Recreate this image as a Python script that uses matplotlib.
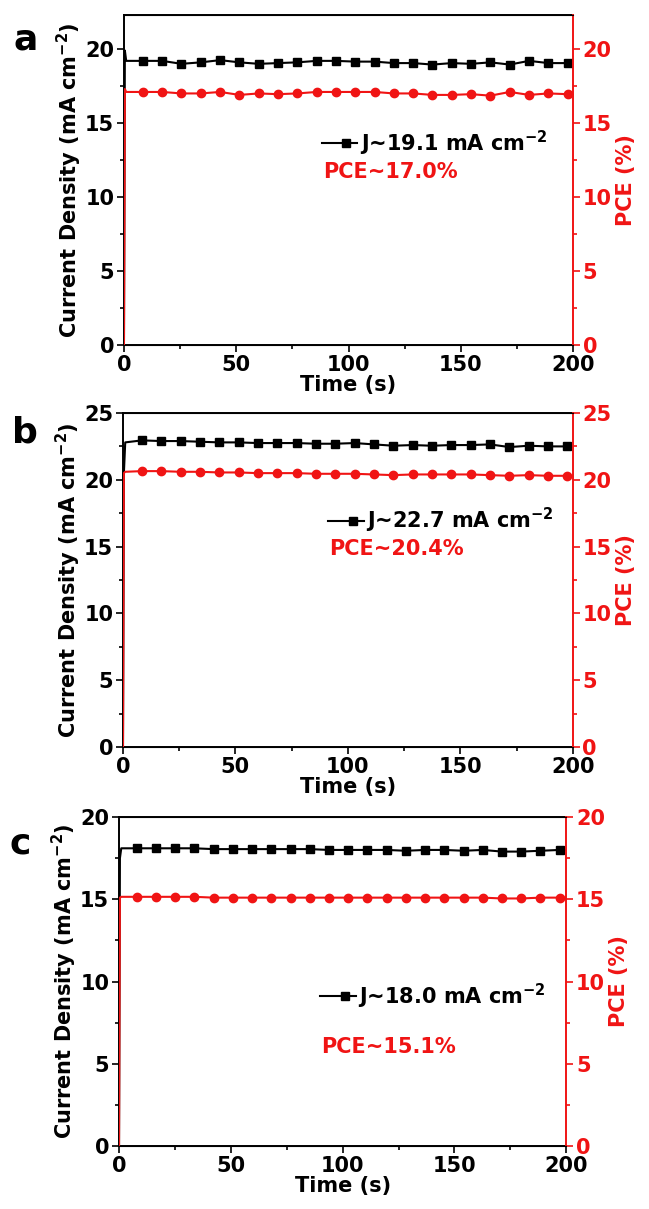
import numpy as np
import matplotlib
matplotlib.use('Agg')
from matplotlib import pyplot as plt
from matplotlib.ticker import MultipleLocator

plt.rcParams['font.family'] = ['DejaVu Sans']
plt.rcParams['font.weight'] = 'bold'
plt.rcParams['mathtext.fontset'] = 'dejavusans'
plt.rcParams['mathtext.default'] = 'bf'

# marker times (s)
t_a = [8.4, 17.0, 25.6, 34.2, 42.8, 51.4, 60.0, 68.6, 77.2, 85.8, 94.4, 103.0, 111.6,
       120.2, 128.8, 137.4, 146.0, 154.6, 163.2, 171.8, 180.4, 189.0, 197.6]
t_c = [7.9, 16.5, 25.1, 33.7, 42.3, 50.9, 59.5, 68.1, 76.7, 85.3, 93.9, 102.5, 111.1,
       119.7, 128.3, 136.9, 145.5, 154.1, 162.7, 171.3, 179.9, 188.5, 197.1]
t_end = 200.0

# panel a
J_a = [19.2, 19.2, 19.0, 19.1, 19.25, 19.1, 19.0, 19.05, 19.1, 19.2, 19.2, 19.15, 19.15,
       19.05, 19.05, 18.95, 19.05, 19.0, 19.1, 18.95, 19.2, 19.05, 19.05]
P_a = [17.1, 17.1, 17.0, 17.0, 17.1, 16.9, 17.0, 16.95, 17.0, 17.1, 17.1, 17.1, 17.1,
       17.0, 17.0, 16.9, 16.9, 16.95, 16.85, 17.1, 16.9, 17.0, 16.95]
# panel b
J_b = [22.95, 22.9, 22.9, 22.85, 22.8, 22.8, 22.75, 22.75, 22.75, 22.7, 22.7, 22.75, 22.65,
       22.55, 22.6, 22.55, 22.6, 22.6, 22.65, 22.45, 22.55, 22.5, 22.5]
P_b = [20.65, 20.65, 20.6, 20.6, 20.55, 20.55, 20.5, 20.5, 20.5, 20.45, 20.45, 20.45, 20.4,
       20.35, 20.4, 20.4, 20.4, 20.4, 20.35, 20.3, 20.35, 20.3, 20.3]
# panel c
J_c = [18.1, 18.1, 18.1, 18.1, 18.05, 18.05, 18.05, 18.05, 18.05, 18.05, 18.0, 18.0, 18.0,
       18.0, 17.95, 18.0, 18.0, 17.95, 18.0, 17.9, 17.9, 17.95, 18.0]
P_c = [15.15, 15.15, 15.15, 15.15, 15.1, 15.1, 15.1, 15.1, 15.1, 15.1, 15.1, 15.1, 15.1,
       15.1, 15.1, 15.1, 15.1, 15.1, 15.1, 15.05, 15.05, 15.1, 15.1]

# start-up (t, J, PCE)
start_a = ([0.0, 0.4, 1.0], [0.0, 19.9, 19.2], [0.0, 17.3, 17.1])
start_b = ([0.0, 0.4, 1.0], [0.0, 20.5, 22.8], [0.0, 20.5, 20.6])
start_c = ([0.0, 0.4, 1.0], [0.0, 17.5, 18.1], [0.0, 15.1, 15.15])

panels = [
    dict(letter='a', t=t_a, J=J_a, P=P_a, start=start_a, ymax=22.3, yticks=[0, 5, 10, 15, 20],
         jtxt='J~19.1 mA cm$^{-2}$', ptxt='PCE~17.0%',
         rect=[0.191, 0.7146, 0.692, 0.273], leg=(0.44, 0.612, 0.524), lpos=(-0.247, 0.927)),
    dict(letter='b', t=t_a, J=J_b, P=P_b, start=start_b, ymax=25, yticks=[0, 5, 10, 15, 20, 25],
         jtxt='J~22.7 mA cm$^{-2}$', ptxt='PCE~20.4%',
         rect=[0.1895, 0.3821, 0.693, 0.2763], leg=(0.456, 0.677, 0.593), lpos=(-0.247, 0.943)),
    dict(letter='c', t=t_c, J=J_c, P=P_c, start=start_c, ymax=20, yticks=[0, 5, 10, 15, 20],
         jtxt='J~18.0 mA cm$^{-2}$', ptxt='PCE~15.1%',
         rect=[0.1834, 0.0521, 0.689, 0.2721], leg=(0.45, 0.456, 0.30), lpos=(-0.244, 0.921)),
]

fig = plt.figure(figsize=(6.49, 12.09), dpi=100)
red = '#f01414'
fs = 15

for p in panels:
    ax = fig.add_axes(p['rect'])
    ax2 = ax.twinx()
    ts, js, ps = p['start']
    tt = list(ts) + list(p['t']) + [t_end]
    jj = list(js) + list(p['J']) + [p['J'][-1]]
    pp = list(ps) + list(p['P']) + [p['P'][-1]]
    n0 = len(ts)
    mk = list(range(n0, n0 + len(p['t'])))
    ax.plot(tt, jj, color='k', lw=1.5, marker='s', ms=5.5, markevery=mk, zorder=3)
    ax2.plot(tt, pp, color=red, lw=1.5, marker='o', ms=6, markevery=mk, zorder=3)

    for a in (ax, ax2):
        a.set_xlim(0, 200)
        a.set_ylim(0, p['ymax'])
        a.yaxis.set_minor_locator(MultipleLocator(2.5))
        a.set_yticks(p['yticks'])
    ax.xaxis.set_major_locator(MultipleLocator(50))
    ax.xaxis.set_minor_locator(MultipleLocator(25))
    ax.tick_params(axis='both', which='major', direction='out', length=5, width=1.2,
                   labelsize=fs, pad=2)
    ax.tick_params(axis='both', which='minor', direction='out', length=3, width=1.2)
    ax.tick_params(axis='x', which='both', top=False)
    ax2.tick_params(axis='y', which='major', direction='out', length=5, width=1.2,
                    labelsize=fs, colors=red, pad=2)
    ax2.tick_params(axis='y', which='minor', direction='out', length=3, width=1.2, colors=red)
    for s in ('left', 'bottom', 'top'):
        ax.spines[s].set_linewidth(1.4)
    ax2.spines['right'].set_color(red)
    ax2.spines['right'].set_linewidth(1.4)
    ax2.spines['left'].set_visible(False)
    ax.spines['right'].set_visible(False)

    ax.set_xlabel('Time (s)', fontsize=fs, fontweight='bold', labelpad=0)
    ax.set_ylabel('Current Density (mA cm$^{-2}$)', fontsize=fs, fontweight='bold', labelpad=1)
    ax2.set_ylabel('PCE (%)', fontsize=fs, fontweight='bold', color=red, labelpad=3)

    lx, ly, py = p['leg']
    ax.plot([lx, lx + 0.08], [ly, ly], color='k', lw=1.5, transform=ax.transAxes)
    ax.plot([lx + 0.055], [ly], color='k', marker='s', ms=5.5, transform=ax.transAxes)
    ax.text(lx + 0.085, ly, p['jtxt'], transform=ax.transAxes, fontsize=fs,
            fontweight='bold', va='center', ha='left')
    ax.text(lx + 0.003, py, p['ptxt'], transform=ax.transAxes, fontsize=fs,
            fontweight='bold', va='center', ha='left', color=red)

    ax.text(p['lpos'][0], p['lpos'][1], p['letter'], transform=ax.transAxes, fontsize=26,
            fontweight='bold', va='center', ha='left')

fig.savefig('out.png', dpi=100, facecolor='w')
